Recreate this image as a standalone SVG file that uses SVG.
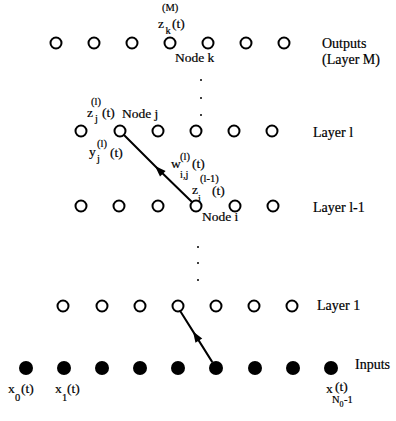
<svg xmlns="http://www.w3.org/2000/svg" width="396" height="421" viewBox="0 0 396 421">
<style>
text{font-family:"Liberation Serif","Times New Roman",serif;fill:#000;stroke:#000;stroke-width:0.2}
.lb{font-size:14px}
.m{font-size:13.5px}
.s{font-size:10.5px}
.o{fill:#fff;stroke:#000;stroke-width:2}
.f{fill:#000}
.c{stroke:#000;stroke-width:2;fill:none}
</style>
<defs>
<marker id="ah" markerUnits="userSpaceOnUse" markerWidth="14" markerHeight="10" viewBox="-12 -5 14 10" refX="0" refY="0" orient="auto">
<path d="M0,0 L-11,-4 L-11,4 Z" fill="#000"/>
</marker>
</defs>
<rect width="396" height="421" fill="#fff"/>
<g id="layer-M">
<circle class="o" cx="56" cy="43" r="5.5"/>
<circle class="o" cx="94" cy="43" r="5.5"/>
<circle class="o" cx="132" cy="43" r="5.5"/>
<circle class="o" cx="170" cy="43" r="5.5"/>
<circle class="o" cx="208" cy="43" r="5.5"/>
<circle class="o" cx="246" cy="43" r="5.5"/>
<circle class="o" cx="284" cy="43" r="5.5"/>
<text class="s" x="162" y="11">(M)</text>
<text class="m" x="158" y="28">z</text>
<text class="s" x="165.5" y="34">k</text>
<text class="m" x="172" y="28">(t)</text>
<text class="m" x="175" y="62">Node k</text>
<text class="lb" x="322" y="48">Outputs</text>
<text class="lb" x="322" y="64">(Layer M)</text>
</g>
<g id="dots-upper">
<circle class="f" cx="201" cy="80" r="1"/>
<circle class="f" cx="201" cy="98" r="1"/>
<circle class="f" cx="201" cy="115" r="1"/>
</g>
<g id="layer-l">
<circle class="o" cx="81" cy="131" r="5.5"/>
<circle class="o" cx="120" cy="131" r="5.5"/>
<circle class="o" cx="158" cy="131" r="5.5"/>
<circle class="o" cx="196" cy="131" r="5.5"/>
<circle class="o" cx="234" cy="131" r="5.5"/>
<circle class="o" cx="272" cy="131" r="5.5"/>
<text class="s" x="91" y="105">(l)</text>
<text class="m" x="87" y="117">z</text>
<text class="s" x="95" y="122">j</text>
<text class="m" x="102" y="117">(t)</text>
<text class="m" x="122" y="118">Node j</text>
<text class="s" x="97" y="147">(l)</text>
<text class="m" x="89" y="156">y</text>
<text class="s" x="97" y="162">j</text>
<text class="m" x="110" y="157">(t)</text>
<text class="lb" x="313" y="137">Layer l</text>
</g>
<g id="weight-label">
<text class="s" x="180" y="160">(l)</text>
<text class="m" x="171" y="168">w</text>
<text class="s" x="180" y="178">i,j</text>
<text class="m" x="192" y="168">(t)</text>
</g>
<g id="layer-l-1">
<circle class="o" cx="81" cy="206" r="5.5"/>
<circle class="o" cx="119" cy="206" r="5.5"/>
<circle class="o" cx="158" cy="206" r="5.5"/>
<circle class="o" cx="196" cy="206" r="5.5"/>
<circle class="o" cx="235" cy="206" r="5.5"/>
<circle class="o" cx="273" cy="206" r="5.5"/>
<text class="s" x="200" y="182">(l-1)</text>
<text class="m" x="192" y="194">z</text>
<text class="s" x="198" y="202">i</text>
<text class="m" x="212" y="195">(t)</text>
<text class="m" x="202" y="221">Node i</text>
<text class="lb" x="313" y="212">Layer l-1</text>
</g>
<g id="dots-lower">
<circle class="f" cx="198" cy="247" r="1"/>
<circle class="f" cx="198" cy="263" r="1"/>
<circle class="f" cx="198" cy="280" r="1"/>
</g>
<g id="layer-1">
<circle class="o" cx="63" cy="306" r="5.5"/>
<circle class="o" cx="102" cy="306" r="5.5"/>
<circle class="o" cx="140" cy="306" r="5.5"/>
<circle class="o" cx="178" cy="306" r="5.5"/>
<circle class="o" cx="216" cy="306" r="5.5"/>
<circle class="o" cx="254" cy="306" r="5.5"/>
<circle class="o" cx="292" cy="306" r="5.5"/>
<text class="lb" x="317" y="310">Layer 1</text>
</g>
<g id="inputs">
<circle class="f" cx="26" cy="368" r="7"/>
<circle class="f" cx="64" cy="368" r="7"/>
<circle class="f" cx="102" cy="368" r="7"/>
<circle class="f" cx="140" cy="368" r="7"/>
<circle class="f" cx="178" cy="368" r="7"/>
<circle class="f" cx="216" cy="368" r="7"/>
<circle class="f" cx="255" cy="368" r="7"/>
<circle class="f" cx="293" cy="368" r="7"/>
<circle class="f" cx="331" cy="368" r="7"/>
<text class="lb" x="355" y="369">Inputs</text>
<text class="m" x="8" y="393">x</text>
<text class="s" x="15" y="401">0</text>
<text class="m" x="21" y="393">(t)</text>
<text class="m" x="55" y="393">x</text>
<text class="s" x="62" y="401">1</text>
<text class="m" x="67" y="393">(t)</text>
<text class="m" x="326" y="393">x</text>
<text class="m" x="335" y="391">(t)</text>
<text class="s" x="332" y="403">N</text>
<text class="s" x="339.5" y="407" style="font-size:8px">0</text>
<text class="s" x="344" y="403">-1</text>
</g>
<g id="connectors">
<path class="c" d="M212.3,362.1 L193,331.4 L179.7,310.2" marker-mid="url(#ah)"/>
<path class="c" d="M192.5,202.5 L155,166 L123.5,134.5" marker-mid="url(#ah)"/>
</g>
</svg>
